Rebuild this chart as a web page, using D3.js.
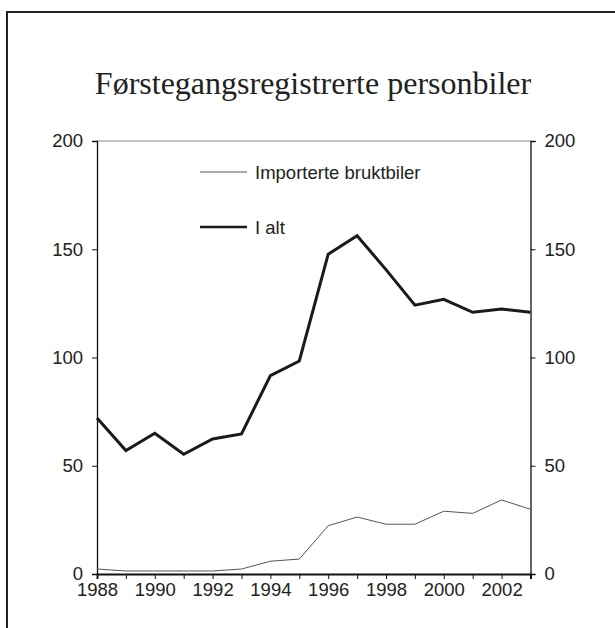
<!DOCTYPE html>
<html><head><meta charset="utf-8">
<script src="https://cdn.jsdelivr.net/npm/d3@7"></script>
<style>body{margin:0;background:#fff}svg{display:block}</style>
</head><body>
<script>
const years = d3.range(1988, 2004);
const importerte = [2.3, 1.4, 1.4, 1.4, 1.4, 2.3, 5.9, 6.9, 22.3, 26.3, 23, 23, 29, 28, 34.2, 29.9];
const iAlt = [72, 57, 65, 55.3, 62.4, 64.7, 91.6, 98.4, 147.7, 156.2, 140.6, 124.2, 126.9, 120.9, 122.4, 120.9];
const yTicks = [0, 50, 100, 150, 200];
const xLabelYears = [1988, 1990, 1992, 1994, 1996, 1998, 2000, 2002];
const seriesNames = ["Importerte bruktbiler", "I alt"];

const W = 615, H = 628;
const svg = d3.select("body").append("svg").attr("width", W).attr("height", H);

// outer frame
svg.append("path").attr("d", "M7,640 V12 H625").attr("fill", "none").attr("stroke", "#222").attr("stroke-width", 2);

const pLeft = 97, pRight = 530.5, pTop = 141, pBottom = 574;
const x = d3.scaleLinear().domain([1988, 2003]).range([pLeft, pRight]);
const y = d3.scaleLinear().domain([0, 200]).range([pBottom, pTop]);

svg.append("text").attr("x", 313).attr("y", 94).attr("text-anchor", "middle")
  .attr("font-family", "Liberation Serif, Times New Roman, serif").attr("font-size", 32).attr("fill", "#222")
  .text("Førstegangsregistrerte personbiler");

// top border gray
svg.append("line").attr("x1", pLeft).attr("x2", pRight).attr("y1", pTop).attr("y2", pTop).attr("stroke", "#888").attr("stroke-width", 1.2);

const font = "Liberation Sans, Arial, sans-serif";
const yl = d3.axisLeft(y).tickValues(yTicks).tickSize(5).tickPadding(9);
const gl = svg.append("g").attr("transform", `translate(${pLeft},0)`).call(yl);
const yr = d3.axisRight(y).tickValues(yTicks).tickSize(5).tickPadding(9);
const gr = svg.append("g").attr("transform", `translate(${pRight},0)`).call(yr);
const xb = d3.axisBottom(x).tickValues(years).tickSize(5).tickPadding(4)
  .tickFormat(d => xLabelYears.includes(d) ? d : "");
const gb = svg.append("g").attr("transform", `translate(0,${pBottom})`).call(xb);

[gl, gr, gb].forEach(g => {
  g.select(".domain").attr("stroke", "#111").attr("stroke-width", 1.3);
  g.selectAll(".tick line").attr("stroke", "#111").attr("stroke-width", 1);
  g.selectAll("text").attr("font-family", font).attr("font-size", 18.5).attr("fill", "#222");
});
gb.select(".domain").attr("stroke-width", 2);

const line = d3.line().x((d, i) => x(years[i])).y(d => y(d));
svg.append("path").datum(importerte).attr("d", line).attr("fill", "none").attr("stroke", "#555").attr("stroke-width", 1);
svg.append("path").datum(iAlt).attr("d", line).attr("fill", "none").attr("stroke", "#1a1a1a").attr("stroke-width", 3).attr("stroke-linejoin", "miter");

// legend
const leg = [{y: 172, w: 1, c: "#555"}, {y: 227, w: 2.5, c: "#1a1a1a"}];
leg.forEach((l, i) => {
  svg.append("line").attr("x1", 200).attr("x2", 247).attr("y1", l.y).attr("y2", l.y).attr("stroke", l.c).attr("stroke-width", l.w);
  svg.append("text").attr("x", 255).attr("y", l.y + 6.5).attr("font-family", font).attr("font-size", 18.5).attr("fill", "#222").text(seriesNames[i]);
});
</script>
</body></html>
